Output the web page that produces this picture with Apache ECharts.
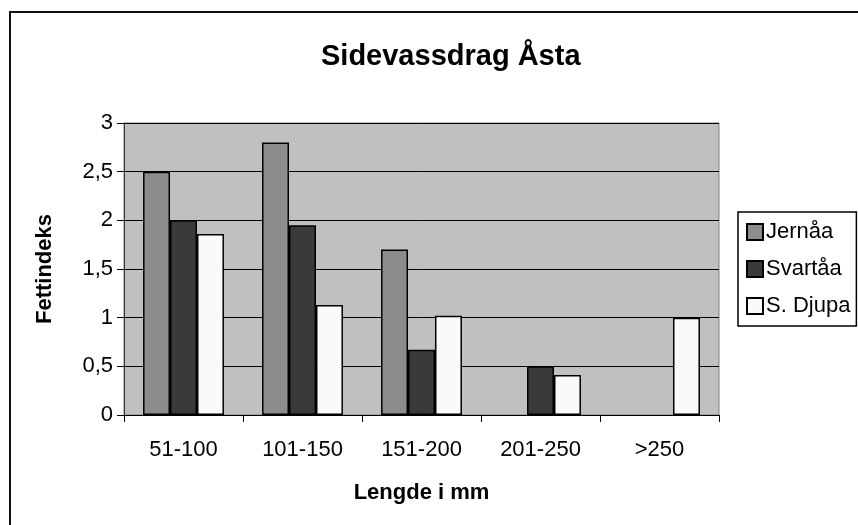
<!DOCTYPE html>
<html>
<head>
<meta charset="utf-8">
<script src="https://cdn.jsdelivr.net/npm/echarts@6/dist/echarts.min.js"></script>
<style>
html,body{margin:0;padding:0;background:#fff;}
#c{width:858px;height:525px;}
</style>
</head>
<body>
<div id="c"></div>
<script>
var categories = ['51-100', '101-150', '151-200', '201-250', '>250'];
var jernaa = [2.5, 2.8, 1.7, null, null];
var svartaa = [2.0, 1.95, 0.67, 0.5, null];
var sDjupa = [1.86, 1.13, 1.02, 0.41, 1.0];
var seriesNames = ['Jernåa', 'Svartåa', 'S. Djupa'];
var yTicks = [0, 0.5, 1, 1.5, 2, 2.5, 3];

var FONT = "'Liberation Sans', Arial, sans-serif";
var chart = echarts.init(document.getElementById('c'), null, {renderer: 'canvas'});

function bar(name, data, color) {
  return {
    name: name,
    type: 'bar',
    data: data,
    barGap: '0%',
    barCategoryGap: '32%',
    itemStyle: {color: color, borderColor: '#000', borderWidth: 1.5},
    emphasis: {disabled: true}
  };
}

chart.setOption({
  animation: false,
  backgroundColor: '#fff',
  textStyle: {fontFamily: FONT},
  title: {
    text: 'Sidevassdrag Åsta',
    left: 316,
    top: 37,
    textStyle: {fontFamily: FONT, fontSize: 29, fontWeight: 'bold', color: '#000'}
  },
  graphic: [{
    type: 'rect',
    shape: {x: 10, y: 12, width: 900, height: 600},
    style: {fill: 'none', stroke: '#111', lineWidth: 2},
    silent: true,
    z: 100
  }],
  legend: {
    orient: 'vertical',
    left: 738,
    top: 212,
    padding: [9, 6, 9, 8],
    itemWidth: 16,
    itemHeight: 16,
    itemGap: 15,
    borderColor: '#000',
    borderWidth: 1.5,
    icon: 'rect',
    data: seriesNames,
    textStyle: {fontFamily: FONT, fontSize: 22, color: '#000', padding: [0, 0, 0, -2]}
  },
  grid: {
    left: 124, right: 139, top: 123, bottom: 110,
    show: true,
    backgroundColor: '#c0c0c0',
    borderColor: '#808080',
    borderWidth: 1
  },
  xAxis: {
    type: 'category',
    data: categories,
    name: 'Lengde i mm',
    nameLocation: 'middle',
    nameGap: 67,
    nameTextStyle: {fontFamily: FONT, fontSize: 22, fontWeight: 'bold', color: '#000'},
    axisLine: {lineStyle: {color: '#000', width: 1}},
    axisTick: {show: true, length: 7, alignWithLabel: false, lineStyle: {color: '#000'}},
    axisLabel: {fontFamily: FONT, fontSize: 22, color: '#000', margin: 24}
  },
  yAxis: {
    type: 'value',
    min: yTicks[0],
    max: yTicks[yTicks.length - 1],
    interval: 0.5,
    name: 'Fettindeks',
    nameLocation: 'middle',
    nameGap: 68,
    nameTextStyle: {fontFamily: FONT, fontSize: 22, fontWeight: 'bold', color: '#000'},
    axisLine: {show: true, lineStyle: {color: '#333', width: 1}},
    axisTick: {show: true, length: 7, inside: false, lineStyle: {color: '#000'}},
    axisLabel: {
      fontFamily: FONT, fontSize: 22, color: '#000', margin: 11,
      formatter: function (v) { return String(v).replace('.', ','); }
    },
    splitLine: {show: true, lineStyle: {color: '#000', width: 1}}
  },
  series: [
    bar(seriesNames[0], jernaa, '#8c8c8c'),
    bar(seriesNames[1], svartaa, '#3a3a3a'),
    bar(seriesNames[2], sDjupa, '#fafafa')
  ]
});
</script>
</body>
</html>
